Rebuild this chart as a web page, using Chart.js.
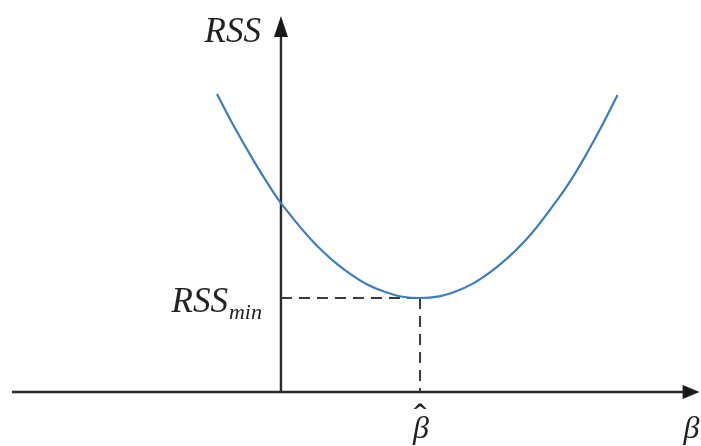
<!DOCTYPE html>
<html>
<head>
<meta charset="utf-8">
<script src="https://cdn.jsdelivr.net/npm/chart.js@4.4.1/dist/chart.umd.min.js"></script>
<style>
  html, body { margin: 0; padding: 0; background: #ffffff; }
  #wrap { width: 701px; height: 446px; }
</style>
</head>
<body>
<div id="wrap"><canvas id="c" width="701" height="446"></canvas></div>
<script>
// Residual sum of squares as a function of the coefficient beta
const betaValues = [-0.46, -0.35, -0.2, -0.1, 0.0, 0.25, 0.5, 0.75, 1.0, 1.25, 1.5, 1.75, 2.0, 2.1, 2.2, 2.3, 2.42];
const rssValues  = [3.17, 2.86, 2.47, 2.23, 2.01, 1.57, 1.255, 1.064, 1.00, 1.067, 1.27, 1.60, 2.07, 2.29, 2.54, 2.81, 3.16];

// The minimum of the curve
const betaHat = 1.0;
const rssMin = 1.0;

// Extent of the drawn axes
const xAxisStart = -1.934, xAxisTip = 3.01;
const yAxisTop = 4.0;

// Labels
const yAxisLabel = 'RSS';
const minLabelMain = 'RSS';
const minLabelSub = 'min';
const xAxisLabel = 'β';
const betaHatLabel = 'β';
const hatMark = '^';

const curvePoints = betaValues.map((b, i) => ({ x: b, y: rssValues[i] }));

const axisColor = '#2b2b2b';
const dashColor = '#3a3a3a';
const curveColor = '#3b7dbd';
const serif = '"Liberation Serif", "DejaVu Serif", serif';

const ARROW_LEN = 17, ARROW_HALF = 7;

// Arrowheads and text labels
const annotations = {
  id: 'annotations',
  afterDatasetsDraw(chart) {
    const { ctx, scales: { x, y } } = chart;
    const ox = x.getPixelForValue(0), oy = y.getPixelForValue(0);
    const tipX = x.getPixelForValue(xAxisTip);
    const tipY = y.getPixelForValue(yAxisTop);
    ctx.save();
    ctx.fillStyle = '#1a1a1a';
    // x-axis arrowhead
    ctx.beginPath();
    ctx.moveTo(tipX, oy);
    ctx.lineTo(tipX - ARROW_LEN, oy - ARROW_HALF);
    ctx.lineTo(tipX - ARROW_LEN, oy + ARROW_HALF);
    ctx.closePath();
    ctx.fill();
    // y-axis arrowhead
    ctx.beginPath();
    ctx.moveTo(ox, tipY);
    ctx.lineTo(ox - ARROW_HALF, tipY + ARROW_LEN + 4);
    ctx.lineTo(ox + ARROW_HALF, tipY + ARROW_LEN + 4);
    ctx.closePath();
    ctx.fill();

    ctx.fillStyle = '#222222';
    ctx.textBaseline = 'alphabetic';

    // y-axis title
    ctx.font = 'italic 35px ' + serif;
    ctx.textAlign = 'right';
    ctx.fillText(yAxisLabel, ox - 20, 42);

    // RSS_min next to the horizontal dashed line
    const ym = y.getPixelForValue(rssMin);
    ctx.font = 'italic 22px ' + serif;
    const subW = ctx.measureText(minLabelSub).width;
    ctx.textAlign = 'left';
    const subX = ox - 19 - subW;
    ctx.fillText(minLabelSub, subX, ym + 21);
    ctx.font = 'italic 35px ' + serif;
    ctx.textAlign = 'right';
    ctx.fillText(minLabelMain, subX - 1, ym + 14);

    // beta-hat under the vertical dashed line
    const bx = x.getPixelForValue(betaHat);
    ctx.font = 'italic 32px ' + serif;
    ctx.textAlign = 'center';
    ctx.fillText(betaHatLabel, bx + 1, oy + 46);
    ctx.font = 'bold 20px "DejaVu Sans", sans-serif';
    ctx.fillText(hatMark, bx, oy + 26);

    // x-axis title
    ctx.font = 'italic 32px ' + serif;
    ctx.textAlign = 'left';
    ctx.fillText(xAxisLabel, tipX - 16, oy + 46);
    ctx.restore();
  }
};

new Chart(document.getElementById('c'), {
  type: 'scatter',
  data: {
    datasets: [
      {
        label: 'RSS',
        data: curvePoints,
        showLine: true,
        borderColor: curveColor,
        borderWidth: 2.2,
        pointRadius: 0,
        tension: 0.4,
        order: 0
      },
      {
        label: 'x-axis',
        data: [{ x: xAxisStart, y: 0 }, { x: xAxisTip - 0.1, y: 0 }],
        showLine: true,
        borderColor: axisColor,
        borderWidth: 2.4,
        pointRadius: 0,
        order: 2
      },
      {
        label: 'y-axis',
        data: [{ x: 0, y: 0 }, { x: 0, y: yAxisTop - 0.2 }],
        showLine: true,
        borderColor: axisColor,
        borderWidth: 2.4,
        pointRadius: 0,
        order: 2
      },
      {
        label: 'min-h',
        data: [{ x: 0, y: rssMin }, { x: betaHat, y: rssMin }],
        showLine: true,
        borderColor: dashColor,
        borderWidth: 2,
        borderDash: [11, 7],
        pointRadius: 0,
        order: 1
      },
      {
        label: 'min-v',
        data: [{ x: betaHat, y: rssMin }, { x: betaHat, y: 0 }],
        showLine: true,
        borderColor: dashColor,
        borderWidth: 2,
        borderDash: [11, 7],
        pointRadius: 0,
        order: 1
      }
    ]
  },
  options: {
    responsive: false,
    animation: false,
    devicePixelRatio: 1,
    layout: { padding: 0 },
    plugins: { legend: { display: false }, tooltip: { enabled: false } },
    scales: {
      x: { type: 'linear', min: -2.02, max: 3.02, display: false },
      y: { type: 'linear', min: -0.574, max: 4.170, display: false }
    }
  },
  plugins: [annotations]
});
</script>
</body>
</html>
